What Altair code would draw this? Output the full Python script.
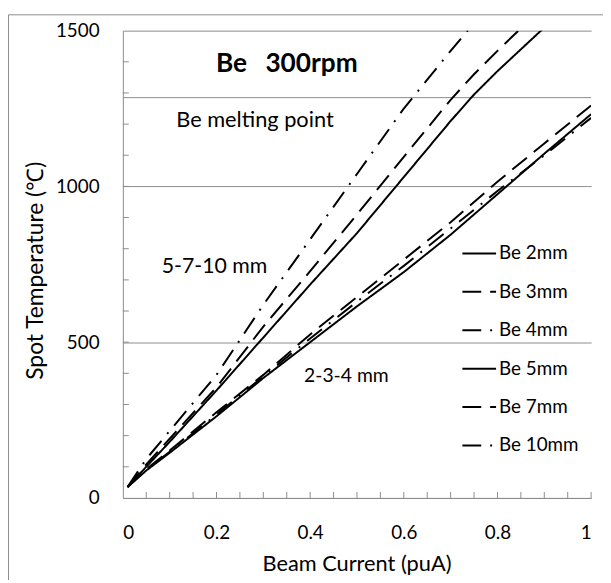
import altair as alt
import pandas as pd

# ---- data ----
series = ["Be 2mm", "Be 3mm", "Be 4mm", "Be 5mm", "Be 7mm", "Be 10mm"]

x_low = [0.01, 0.05, 0.1, 0.2, 0.3, 0.4, 0.5, 0.6, 0.7, 0.8, 0.9, 1.0]
be2 = [35, 88, 145, 262, 385, 500, 615, 725, 845, 975, 1105, 1232]
be3 = [35, 92, 152, 275, 395, 525, 645, 765, 885, 1015, 1138, 1260]
be4 = [35, 90, 148, 268, 390, 512, 630, 745, 865, 985, 1100, 1220]

x_high = [0.01, 0.05, 0.1, 0.2, 0.3, 0.4, 0.5, 0.6, 0.7, 0.75, 0.8, 0.9]
be5 = [35, 100, 180, 345, 515, 685, 850, 1030, 1210, 1295, 1370, 1510]
be7 = [35, 108, 190, 355, 550, 728, 910, 1095, 1278, 1360, 1435, 1580]
be10 = [35, 125, 215, 395, 620, 830, 1040, 1250, 1435, 1525, 1610, 1780]

melting_point = [1285]
x_ticks = [0, 0.2, 0.4, 0.6, 0.8, 1]
y_ticks = [0, 500, 1000, 1500]
x_minor = [0.05, 0.1, 0.15, 0.2, 0.25, 0.3, 0.35, 0.4, 0.45, 0.5, 0.55, 0.6,
           0.65, 0.7, 0.75, 0.8, 0.85, 0.9, 0.95, 1.0]
y_minor = [100, 200, 300, 400, 500, 600, 700, 800, 900, 1000, 1100, 1200,
           1300, 1400]

rows = []
for name, xs, ys in [("Be 2mm", x_low, be2), ("Be 3mm", x_low, be3),
                     ("Be 4mm", x_low, be4), ("Be 5mm", x_high, be5),
                     ("Be 7mm", x_high, be7), ("Be 10mm", x_high, be10)]:
    for xv, yv in zip(xs, ys):
        rows.append({"series": name, "current": xv, "temp": yv})
df = pd.DataFrame(rows)

GRAY = "#8c8c8c"
FONT = "Lato"
dash_range = [[1, 0], [19, 9], [19, 9, 2, 9], [1, 0], [19, 9], [19, 9, 2, 9]]

xscale = alt.Scale(domain=[0, 1], nice=False)
yscale = alt.Scale(domain=[0, 1500], nice=False)

xaxis = alt.Axis(values=x_ticks, format="~g", ticks=False, tickSize=0,
                 grid=False, domainColor=GRAY, labelFontSize=19,
                 labelColor="black", labelPadding=26,
                 title="Beam Current (puA)", titleFontSize=22,
                 titleFontWeight="normal", titleColor="black",
                 titleX=236, titleY=66, titleBaseline="middle")
yaxis = alt.Axis(values=y_ticks, format="d", ticks=False, tickSize=0, grid=True,
                 gridColor=GRAY, domainColor=GRAY, labelFontSize=19,
                 labelColor="black", labelPadding=24,
                 title="Spot Temperature (\u2103)", titleFontSize=23,
                 titleFontWeight="normal", titleColor="black",
                 titleX=-88, titleY=242, titleBaseline="middle")

lines = alt.Chart(df).mark_line(color="black", strokeWidth=2, clip=True).encode(
    x=alt.X("current:Q", scale=xscale, axis=xaxis),
    y=alt.Y("temp:Q", scale=yscale, axis=yaxis),
    strokeDash=alt.StrokeDash(
        "series:N", scale=alt.Scale(domain=series, range=dash_range),
        legend=alt.Legend(title=None, orient="none", legendX=342, legendY=207,
                          symbolType="stroke", symbolSize=1156,
                          symbolStrokeWidth=2, symbolStrokeColor="black",
                          labelFontSize=19, labelFont=FONT, labelColor="black",
                          labelOffset=2, rowPadding=10.8, padding=0)),
)

ymin = alt.Chart(pd.DataFrame({"temp": y_minor})).mark_rule(color=GRAY).encode(
    y=alt.Y("temp:Q", scale=yscale, axis=yaxis), x=alt.value(0), x2=alt.value(6))
xmin = alt.Chart(pd.DataFrame({"current": x_minor})).mark_rule(color=GRAY).encode(
    x=alt.X("current:Q", scale=xscale, axis=xaxis), y=alt.value(472), y2=alt.value(466))
melt = alt.Chart(pd.DataFrame({"temp": melting_point})).mark_rule(color=GRAY).encode(
    y=alt.Y("temp:Q", scale=yscale, axis=yaxis))


def label(text, x, y, size, weight="normal"):
    return alt.Chart().mark_text(text=text, font=FONT, fontSize=size,
                                 fontWeight=weight, align="left",
                                 baseline="middle", color="black").encode(
        x=alt.datum(x), y=alt.datum(y))


t_be = label("Be", 0.199, 1392, 26.5, "bold")
t_rpm = label("300rpm", 0.3044, 1392, 26.5, "bold")
t_melt = label("Be melting point", 0.114, 1214, 22)
t_hi = label("5-7-10 mm", 0.083, 741, 21.5)
t_lo = label("2-3-4 mm", 0.387, 391, 19.5)

frame_top = alt.Chart().mark_rule(color=GRAY).encode(
    x=alt.value(-115.5), x2=alt.value(485), y=alt.value(-16))
frame_left = alt.Chart().mark_rule(color=GRAY).encode(
    x=alt.value(-115.5), y=alt.value(-16), y2=alt.value(555))

chart = alt.layer(melt, ymin, xmin, lines, t_be, t_rpm, t_melt, t_hi, t_lo,
                  frame_top, frame_left).properties(
    width=473, height=472,
    padding={"left": 116, "top": 20, "right": 12, "bottom": 80},
    autosize=alt.AutoSizeParams(type="none"),
    background="white",
).configure_view(stroke=None).configure_axis(labelFont=FONT, titleFont=FONT)

chart.save("out.html", embed_options={"renderer": "svg", "actions": False})
